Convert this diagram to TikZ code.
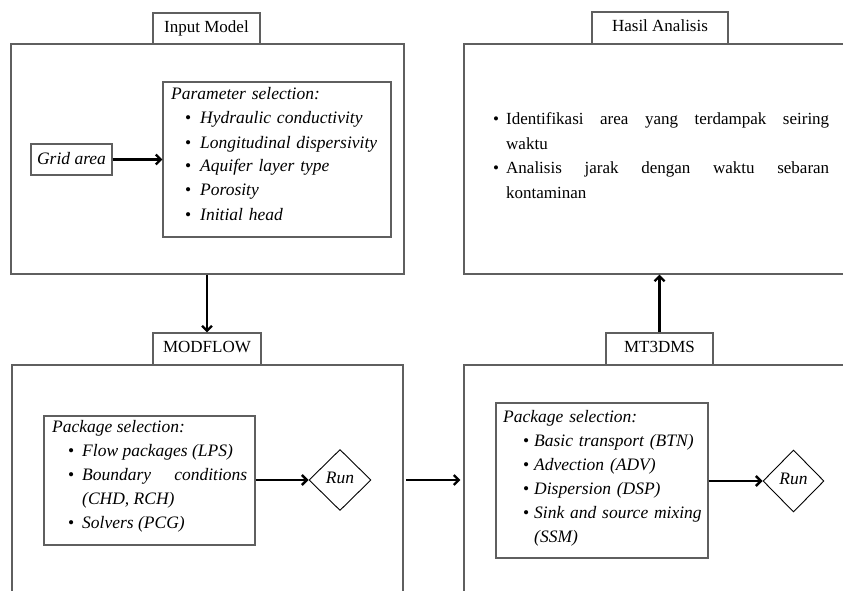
\documentclass[tikz,border=0pt]{standalone}
\usepackage{fontspec}
\setmainfont{Liberation Serif}
\usetikzlibrary{arrows.meta,shapes.geometric}
\definecolor{boxline}{RGB}{95,95,95}
\newcommand{\bitem}[3]{\par\noindent\hangindent=#2pt\hangafter=1\hspace*{#1pt}\makebox[\dimexpr#2pt-#1pt\relax][l]{\upshape\textbullet}\strut#3}
\begin{document}
\begin{tikzpicture}[x=1pt,y=-1pt,
  frame/.style={draw=boxline,line width=1.1pt,inner sep=0pt},
  titlebox/.style={frame,fill=white,font=\fontsize{17}{20}\selectfont},
  listtext/.style={anchor=north west,inner sep=0pt,align=justify,font=\fontsize{17.5}{24}\selectfont\itshape},
  flowarrow/.style={line width=2.7pt,-{Straight Barb[length=5pt,width=10pt,line width=2.4pt]}},
  rundiamond/.style={draw=black,line width=0.9pt,diamond,inner sep=0pt,font=\fontsize{17.5}{20}\selectfont\itshape}]
\useasboundingbox (0,0) rectangle (843,591);
\clip (0,0) rectangle (843,591);
% big frames
\node[frame,minimum width=393pt,minimum height=230pt] (inbox) at (207.5,159) {};
\node[frame,minimum width=396pt,minimum height=230pt] (hasilbox) at (662,159) {};
\node[frame,minimum width=391pt,minimum height=260pt] (mfbox) at (207.5,495) {};
\node[frame,minimum width=396pt,minimum height=260pt] (mtbox) at (662,495) {};
% titles
\node[titlebox,minimum width=107pt,minimum height=31pt] (intitle) at (206.5,28.5) {\raisebox{4pt}{Input Model}};
\node[titlebox,minimum width=136pt,minimum height=32pt] (hasiltitle) at (660,28) {\raisebox{4pt}{Hasil Analisis}};
\node[titlebox,minimum width=108pt,minimum height=32pt] (mftitle) at (207,349) {\raisebox{4pt}{MODFLOW}};
\node[titlebox,minimum width=107pt,minimum height=32pt] (mttitle) at (659.5,349) {\raisebox{4pt}{MT3DMS}};
% input model content
\node[frame,minimum width=81pt,minimum height=31pt,font=\fontsize{17.5}{20}\selectfont\itshape] (grid) at (71.5,159.5) {\raisebox{2pt}{Grid area}};
\node[frame,minimum width=228pt,minimum height=155pt] (param) at (277,159.5) {};
\node[listtext,text width=218pt,align=left] (paramtext) at (171,83) {\strut Parameter selection:
\bitem{14}{29}{Hydraulic conductivity}
\bitem{14}{29}{Longitudinal dispersivity}
\bitem{14}{29}{Aquifer layer type}
\bitem{14}{29}{Porosity}
\bitem{14}{29}{Initial head}\par};
% hasil content
\node[listtext,text width=336pt,font=\fontsize{17}{24.6}\selectfont\upshape] (hasiltext) at (493,100) {%
\bitem{0}{13}{Identifikasi area yang terdampak seiring\linebreak waktu}
\bitem{0}{13}{Analisis jarak dengan waktu sebaran\linebreak kontaminan}\par};
% modflow content
\node[frame,minimum width=211pt,minimum height=129pt] (pkgA) at (149.5,480.5) {};
\node[listtext,text width=195pt] (pkgAtext) at (52,415) {\noindent\strut Package selection:
\bitem{16}{30}{Flow packages (LPS)}
\bitem{16}{30}{Boundary conditions\linebreak (CHD, RCH)}
\bitem{16}{30}{Solvers (PCG)}\par};
\node[rundiamond,minimum width=62pt,minimum height=61pt] (runA) at (340,480) {\raisebox{5pt}{Run}};
% mt3dms content
\node[frame,minimum width=212pt,minimum height=155pt] (pkgB) at (602,480.5) {};
\node[listtext,text width=203pt,align=left] (pkgBtext) at (503,405) {\strut Package selection:
\bitem{20}{31}{Basic transport (BTN)}
\bitem{20}{31}{Advection (ADV)}
\bitem{20}{31}{Dispersion (DSP)}
\bitem{20}{31}{Sink and source mixing\newline (SSM)}\par};
\node[rundiamond,minimum width=61pt,minimum height=62pt] (runB) at (793.5,481) {\raisebox{5pt}{Run}};
% connectors
\draw[flowarrow] (grid.east) -- (param.west |- grid.east);
\draw[flowarrow] (pkgA.east |- runA.west) -- (runA.west);
\draw[flowarrow] (pkgB.east |- runB.west) -- (runB.west);
\draw[flowarrow] (inbox.south -| mftitle.north) -- (mftitle.north);
\draw[flowarrow] (mttitle.north) -- (mttitle.north |- hasilbox.south);
\draw[flowarrow,shorten <=2.5pt,shorten >=3pt] (mfbox.east |- runA.west) -- (mtbox.west |- runA.west);
\end{tikzpicture}
\end{document}
